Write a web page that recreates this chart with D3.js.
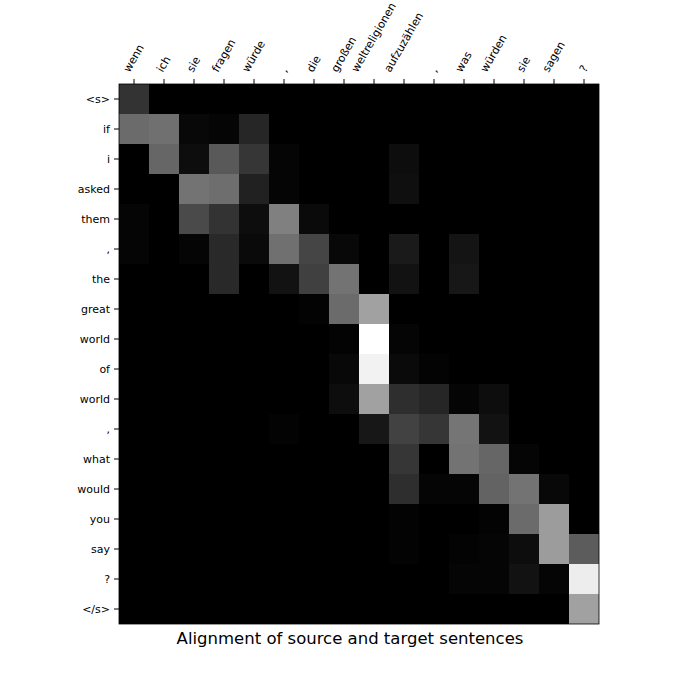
<!DOCTYPE html>
<html>
<head>
<meta charset="utf-8">
<script src="https://cdn.jsdelivr.net/npm/d3@7"></script>
<style>
  body { margin: 0; background: #fff; }
  text { font-family: 'DejaVu Sans', sans-serif; }
</style>
</head>
<body>
<div id="chart"></div>
<script>
// source (German) tokens along the top
const sourceTokens = ['wenn', 'ich', 'sie', 'fragen', 'würde', ',', 'die', 'großen',
  'weltreligionen', 'aufzuzählen', ',', 'was', 'würden', 'sie', 'sagen', '?']

// target (English) tokens down the side
const targetTokens = ['<s>', 'if', 'i', 'asked', 'them', ',', 'the', 'great', 'world',
  'of', 'world', ',', 'what', 'would', 'you', 'say', '?', '</s>']

// attention weights, one row per target token
const weights = [
  [0.20, 0, 0, 0, 0, 0, 0, 0, 0, 0, 0, 0, 0, 0, 0, 0],
  [0.42, 0.44, 0.03, 0.02, 0.15, 0, 0, 0, 0, 0, 0, 0, 0, 0, 0, 0],
  [0, 0.40, 0.05, 0.35, 0.21, 0.02, 0, 0, 0, 0.05, 0, 0, 0, 0, 0, 0],
  [0, 0, 0.45, 0.43, 0.13, 0.02, 0, 0, 0, 0.06, 0, 0, 0, 0, 0, 0],
  [0.02, 0, 0.29, 0.20, 0.05, 0.50, 0.04, 0, 0, 0, 0, 0, 0, 0, 0, 0],
  [0.02, 0, 0.02, 0.16, 0.04, 0.44, 0.27, 0.03, 0, 0.10, 0, 0.08, 0, 0, 0, 0],
  [0, 0, 0, 0.16, 0, 0.07, 0.25, 0.45, 0, 0.07, 0, 0.09, 0, 0, 0, 0],
  [0, 0, 0, 0, 0, 0, 0.01, 0.42, 0.63, 0, 0, 0, 0, 0, 0, 0],
  [0, 0, 0, 0, 0, 0, 0, 0.01, 1.00, 0.02, 0, 0, 0, 0, 0, 0],
  [0, 0, 0, 0, 0, 0, 0, 0.03, 0.95, 0.04, 0.01, 0, 0, 0, 0, 0],
  [0, 0, 0, 0, 0, 0, 0, 0.05, 0.63, 0.18, 0.15, 0.02, 0.05, 0, 0, 0],
  [0, 0, 0, 0, 0, 0.01, 0, 0, 0.09, 0.26, 0.21, 0.46, 0.07, 0, 0, 0],
  [0, 0, 0, 0, 0, 0, 0, 0, 0, 0.21, 0, 0.45, 0.40, 0.02, 0, 0],
  [0, 0, 0, 0, 0, 0, 0, 0, 0, 0.18, 0.02, 0.02, 0.39, 0.45, 0.03, 0],
  [0, 0, 0, 0, 0, 0, 0, 0, 0, 0.01, 0, 0, 0.01, 0.42, 0.61, 0],
  [0, 0, 0, 0, 0, 0, 0, 0, 0, 0.01, 0, 0.01, 0.02, 0.05, 0.61, 0.36],
  [0, 0, 0, 0, 0, 0, 0, 0, 0, 0, 0, 0.02, 0.02, 0.07, 0.02, 0.93],
  [0, 0, 0, 0, 0, 0, 0, 0, 0, 0, 0, 0, 0, 0, 0, 0.63]
]

const title = 'Alignment of source and target sentences'

const margin = { top: 84, right: 101, bottom: 76, left: 119 }
const width = 700 - margin.left - margin.right
const height = 700 - margin.top - margin.bottom

const svg = d3
  .select('#chart')
  .append('svg')
  .attr('width', 700)
  .attr('height', 700)

const g = svg
  .append('g')
  .attr('transform', 'translate(' + margin.left + ',' + margin.top + ')')

const xPositionScale = d3.scaleBand().domain(d3.range(sourceTokens.length)).range([0, width])
const yPositionScale = d3.scaleBand().domain(d3.range(targetTokens.length)).range([0, height])

const colorScale = d3
  .scaleLinear()
  .domain([0, d3.max(weights.flat())])
  .range(['#000000', '#ffffff'])

const cells = []
weights.forEach((row, i) => {
  row.forEach((v, j) => cells.push({ row: i, col: j, value: v }))
})

g.selectAll('rect.cell')
  .data(cells)
  .enter()
  .append('rect')
  .attr('class', 'cell')
  .attr('x', d => xPositionScale(d.col))
  .attr('y', d => yPositionScale(d.row))
  .attr('width', xPositionScale.bandwidth())
  .attr('height', yPositionScale.bandwidth())
  .attr('fill', d => colorScale(d.value))
  .attr('shape-rendering', 'crispEdges')

g.append('rect')
  .attr('width', width)
  .attr('height', height)
  .attr('fill', 'none')
  .attr('stroke', '#000')
  .attr('stroke-width', 0.8)

// y axis on the left
const yAxis = d3
  .axisLeft(yPositionScale)
  .tickSize(5)
  .tickPadding(4)
  .tickFormat(i => targetTokens[i])

g.append('g')
  .attr('class', 'axis y-axis')
  .call(yAxis)
  .call(a => a.select('.domain').remove())
  .selectAll('text')
  .attr('font-size', 11)
  .attr('fill', '#000')
  .attr('font-family', 'DejaVu Sans')

// x axis on top, labels rotated 60 degrees
const xAxis = d3
  .axisTop(xPositionScale)
  .tickSize(5)
  .tickFormat(i => sourceTokens[i])

const xAxisG = g.append('g')
  .attr('class', 'axis x-axis')
  .call(xAxis)
xAxisG.select('.domain').remove()

xAxisG.selectAll('.tick text')
  .attr('font-size', 11)
  .attr('font-family', 'DejaVu Sans')
  .attr('fill', '#000')
  .attr('text-anchor', 'start')
  .attr('dy', null)
  .each(function() {
    const w = this.getComputedTextLength()
    const a = 0.8 * 11
    const d = 0.2 * 11
    const cx = (0.5 * w + 0.866 * (d - a)) / 2
    const x0 = -cx
    const y0 = -10 - 0.5 * d
    d3.select(this)
      .attr('x', 0)
      .attr('y', 0)
      .attr('transform', 'translate(' + x0 + ',' + y0 + ') rotate(-60)')
  })

svg.append('text')
  .attr('x', 350)
  .attr('y', 644)
  .attr('text-anchor', 'middle')
  .attr('font-size', 16.5)
  .attr('fill', '#000')
  .text(title)
</script>
</body>
</html>
